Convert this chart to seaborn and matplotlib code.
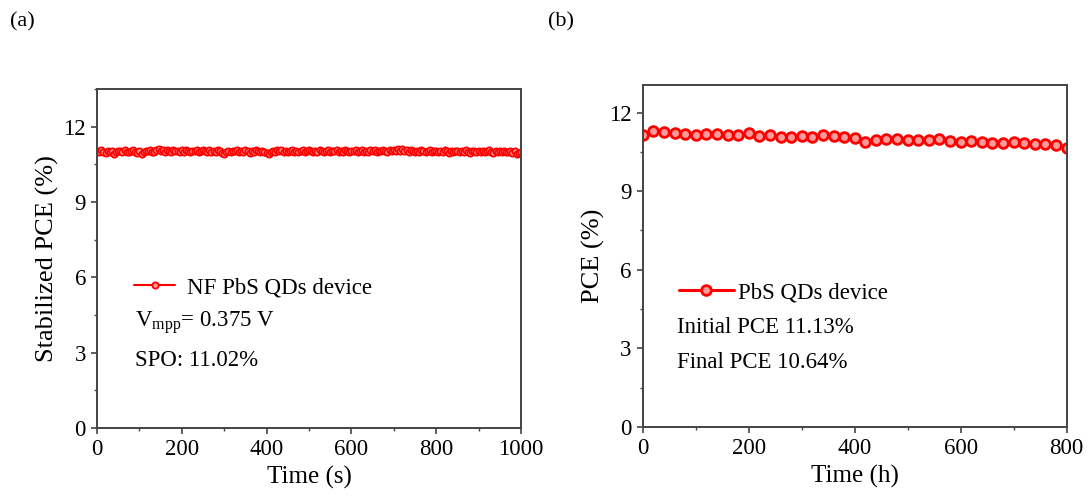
import numpy as np
import pandas as pd
import matplotlib
matplotlib.use('Agg')
import matplotlib.pyplot as plt
import seaborn as sns
from matplotlib.ticker import MultipleLocator

# Datos panel (a): PCE estabilizado cada 5 s
tiempo_s = list(range(0, 1001, 5))
pce_estab = [
    11.04, 10.99, 11.06, 11.01, 10.97, 11.05, 11.00, 11.03, 10.93, 10.98,
    11.05, 11.02, 10.98, 11.06, 11.01, 10.99, 11.04, 11.07, 11.00, 10.97,
    11.03, 10.92, 10.99, 11.05, 11.02, 11.08, 11.01, 10.98, 11.06, 11.12,
    11.04, 11.09, 11.00, 11.06, 11.03, 10.99, 11.07, 11.02, 11.05, 10.98,
    11.06, 11.01, 11.08, 11.03, 10.99, 11.05, 11.02, 11.07, 11.00, 11.04,
    11.09, 11.02, 10.98, 11.06, 11.01, 11.04, 10.99, 11.07, 11.03, 10.97,
    10.93, 11.01, 11.05, 10.98, 11.04, 11.02, 11.08, 11.00, 11.05, 10.99,
    11.06, 11.03, 10.97, 11.04, 11.01, 11.07, 11.02, 10.98, 11.05, 11.00,
    10.96, 10.91, 10.98, 11.03, 11.00, 11.06, 11.02, 11.08, 11.01, 11.05,
    10.99, 11.04, 11.07, 11.01, 11.05, 10.98, 11.03, 11.06, 11.00, 11.04,
    11.08, 11.02, 10.99, 11.05, 11.01, 11.06, 11.03, 10.98, 11.04, 11.07,
    11.00, 11.05, 11.02, 11.08, 10.99, 11.04, 11.01, 11.06, 11.03, 10.98,
    11.05, 11.02, 11.07, 11.00, 11.04, 11.08, 11.01, 11.05, 10.99, 11.06,
    11.03, 11.07, 11.00, 11.05, 11.02, 11.09, 11.04, 10.99, 11.06, 11.02,
    11.07, 11.03, 11.10, 11.05, 11.11, 11.04, 11.08, 11.01, 11.06, 11.02,
    10.98, 11.05, 11.01, 11.06, 11.03, 10.99, 11.04, 11.07, 11.00, 11.03,
    11.05, 10.99, 11.04, 11.01, 11.06, 11.02, 10.97, 11.03, 11.00, 11.05,
    11.02, 10.98, 11.04, 11.00, 11.06, 11.01, 10.97, 11.03, 11.05, 10.99,
    11.03, 11.00, 11.05, 10.98, 11.02, 11.06, 11.01, 10.97, 11.04, 11.00,
    11.02, 10.98, 11.05, 11.01, 10.99, 11.04, 10.96, 11.02, 10.92, 10.97,
    11.00,
]

# Datos panel (b): PCE cada 20 h
tiempo_h = list(range(0, 801, 20))
pce = [
    11.13, 11.28, 11.25, 11.22, 11.17, 11.14, 11.19, 11.17, 11.16, 11.16,
    11.21, 11.12, 11.14, 11.05, 11.08, 11.11, 11.07, 11.14, 11.10, 11.05,
    11.02, 10.88, 10.97, 11.00, 10.99, 10.97, 10.96, 10.96, 10.98, 10.92,
    10.89, 10.90, 10.88, 10.85, 10.83, 10.87, 10.85, 10.81, 10.80, 10.76,
    10.64,
]

df_a = pd.DataFrame({'t': tiempo_s, 'pce': pce_estab})
df_b = pd.DataFrame({'t': tiempo_h, 'pce': pce})

sns.set_style('ticks')
plt.rcParams['font.family'] = ['Liberation Serif', 'DejaVu Serif']
plt.rcParams['mathtext.fontset'] = 'custom'
plt.rcParams['mathtext.rm'] = 'Liberation Serif'
plt.rcParams['text.color'] = 'black'
plt.rcParams['axes.labelcolor'] = 'black'
plt.rcParams['xtick.labelcolor'] = 'black'
plt.rcParams['ytick.labelcolor'] = 'black'

fig = plt.figure(figsize=(10.89, 4.96), dpi=100)
ax1 = fig.add_axes([0.0891, 0.1371, 0.3893, 0.6835])
ax2 = fig.add_axes([0.5902, 0.1391, 0.3893, 0.6895])

rojo = '#ff0000'
rosa = '#ff9a9a'

sns.lineplot(data=df_a, x='t', y='pce', ax=ax1, color=rojo, lw=1.5,
             marker='o', markersize=4.5, markerfacecolor=rosa,
             markeredgecolor=rojo, markeredgewidth=1.3,
             label='NF PbS QDs device')
sns.lineplot(data=df_b, x='t', y='pce', ax=ax2, color=rojo, lw=2.2,
             marker='o', markersize=7, markerfacecolor=rosa,
             markeredgecolor=rojo, markeredgewidth=2.0,
             label='PbS QDs device')

for ax in (ax1, ax2):
    for s in ax.spines.values():
        s.set_color('#444444')
        s.set_linewidth(1.4)
    ax.tick_params(which='major', direction='out', length=4, width=1.2,
                   color='#444444', labelsize=16.5, pad=4)
    ax.tick_params(which='minor', direction='out', length=2.5, width=1.0,
                   color='#444444')
    ax.yaxis.set_major_locator(MultipleLocator(3))
    ax.yaxis.set_minor_locator(MultipleLocator(1.5))
    ax.xaxis.set_major_locator(MultipleLocator(200))
    ax.xaxis.set_minor_locator(MultipleLocator(100))

ax1.set_xlim(0, 1000)
ax1.set_ylim(0, 13.5)
ax2.set_xlim(0, 800)
ax2.set_ylim(0, 13.05)

ax1.set_xlabel('Time (s)', fontsize=18, labelpad=4)
ax1.set_ylabel('Stabilized PCE (%)', fontsize=19, labelpad=3)
ax2.set_xlabel('Time (h)', fontsize=18, labelpad=4)
ax2.set_ylabel('PCE (%)', fontsize=19, labelpad=3)

ax1.legend(loc='center left', bbox_to_anchor=(0.06, 0.413), frameon=False,
           fontsize=16.5, handlelength=1.8, handletextpad=0.5, borderpad=0)
ax2.legend(loc='center left', bbox_to_anchor=(0.058, 0.392), frameon=False,
           fontsize=16.5, handlelength=2.4, handletextpad=0.2, borderpad=0)

ax1.text(0.09, 0.31, r'V$_{\mathrm{mpp}}$= 0.375 V', transform=ax1.transAxes,
         fontsize=16.5, va='center', ha='left')
ax1.text(0.09, 0.20, 'SPO: 11.02%', transform=ax1.transAxes,
         fontsize=16.5, va='center', ha='left')
ax2.text(0.081, 0.292, 'Initial PCE 11.13%', transform=ax2.transAxes,
         fontsize=16.5, va='center', ha='left')
ax2.text(0.081, 0.19, 'Final PCE 10.64%', transform=ax2.transAxes,
         fontsize=16.5, va='center', ha='left')

fig.text(0.009, 0.955, '(a)', fontsize=16, va='center', ha='left')
fig.text(0.503, 0.955, '(b)', fontsize=16, va='center', ha='left')

fig.savefig('out.png', dpi=100)
